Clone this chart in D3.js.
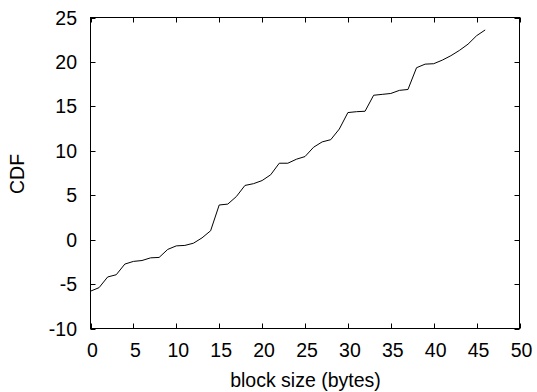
<!DOCTYPE html>
<html>
<head>
<meta charset="utf-8">
<script src="https://cdn.jsdelivr.net/npm/d3@7/dist/d3.min.js"></script>
<style>
html,body{margin:0;padding:0;background:#fff;}
svg{display:block;}
text{font-family:"Liberation Sans",Arial,Helvetica,sans-serif;fill:#000;}
</style>
</head>
<body>
<svg id="chart" width="537" height="392"></svg>
<script>
const xValues = d3.range(0, 47);
const cdfValues = [-5.8, -5.4, -4.2, -3.95, -2.75, -2.45, -2.35, -2.05, -2.0, -1.1,
  -0.7, -0.65, -0.4, 0.2, 1.0, 3.9, 4.0, 4.85, 6.1, 6.3,
  6.65, 7.3, 8.6, 8.6, 9.05, 9.35, 10.4, 11.0, 11.25, 12.45,
  14.3, 14.4, 14.45, 16.25, 16.35, 16.45, 16.8, 16.9, 19.35, 19.75,
  19.8, 20.2, 20.7, 21.3, 22.0, 22.95, 23.6];
const xTicks = [0, 5, 10, 15, 20, 25, 30, 35, 40, 45, 50];
const yTicks = [-10, -5, 0, 5, 10, 15, 20, 25];
const xLabel = "block size (bytes)";
const yLabel = "CDF";

const svg = d3.select("#chart");
const L = 90.5, R = 519.5, T = 17.5, B = 328.5;
const x = d3.scaleLinear().domain([0, 50]).range([L, R]);
const y = d3.scaleLinear().domain([-10, 25]).range([B, T]);
const tl = 5;
const fs = 19.5;

const g = svg.append("g");
// ticks (mirrored, inward)
const ticks = g.append("g").attr("stroke", "#000").attr("stroke-width", 1);
xTicks.forEach(t => {
  const px = Math.round(x(t)) + 0.5;
  ticks.append("line").attr("x1", px).attr("x2", px).attr("y1", B).attr("y2", B - tl);
  ticks.append("line").attr("x1", px).attr("x2", px).attr("y1", T).attr("y2", T + tl);
});
yTicks.forEach(t => {
  const py = Math.round(y(t)) + 0.5;
  ticks.append("line").attr("x1", L).attr("x2", L + tl).attr("y1", py).attr("y2", py);
  ticks.append("line").attr("x1", R).attr("x2", R - tl).attr("y1", py).attr("y2", py);
});

// tick labels
g.selectAll(".xt").data(xTicks).enter().append("text")
  .attr("x", d => x(d) + 2).attr("y", 357).attr("text-anchor", "middle")
  .attr("font-size", fs).text(d => d);
g.selectAll(".yt").data(yTicks).enter().append("text")
  .attr("x", 77).attr("y", d => y(d) + 7).attr("text-anchor", "end")
  .attr("font-size", fs).text(d => d);

// frame
g.append("rect").attr("x", L).attr("y", T).attr("width", R - L).attr("height", B - T)
  .attr("fill", "none").attr("stroke", "#000").attr("stroke-width", 1);

// line
const line = d3.line().x((d, i) => x(xValues[i])).y(d => y(d));
g.append("path").datum(cdfValues).attr("d", line)
  .attr("fill", "none").attr("stroke", "#000").attr("stroke-width", 1);

// axis labels
g.append("text").attr("x", 305.5).attr("y", 386.5).attr("text-anchor", "middle")
  .attr("font-size", fs).text(xLabel);
g.append("text").attr("transform", "translate(24,174) rotate(-90)")
  .attr("text-anchor", "middle").attr("font-size", fs).text(yLabel);
</script>
</body>
</html>
